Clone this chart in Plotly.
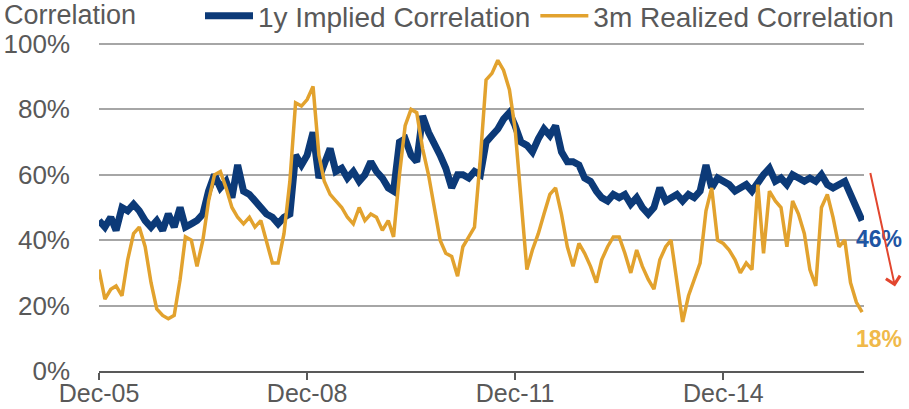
import pandas as pd
import plotly.graph_objects as go

# Monthly observations, Dec-2005 .. Dec-2016
dates = pd.date_range("2005-12-01", "2016-12-01", freq="MS")

implied_1y = [
    46, 44, 47, 43, 50, 49, 51, 49, 46, 44,
    46, 43, 48, 44, 50, 44, 45, 46, 48, 55,
    60, 56, 58, 53, 63, 55, 54, 52, 50, 48,
    47, 45, 47, 48, 66, 63, 66, 73, 59, 63,
    68, 61, 62, 59, 61, 58, 60, 64, 61, 59,
    56, 55, 70, 71, 66, 64, 78, 73, 70, 66,
    62, 56, 60, 60, 59, 61, 60, 70, 72, 74,
    77, 79, 75, 70, 69, 67, 71, 74, 72, 75,
    67, 64, 64, 63, 59, 58, 55, 53, 52, 54,
    53, 54, 51, 53, 50, 48, 50, 56, 52, 53,
    54, 52, 54, 53, 55, 63, 56, 59, 58, 57,
    55, 56, 57, 55, 58, 60, 62, 58, 59, 57,
    60, 59, 58, 59, 58, 60, 57, 56, 57, 58,
    54, 50, 46,
]

realized_3m = [
    31, 22, 25, 26, 23, 34, 42, 44, 38, 27,
    19, 17, 16, 17, 28, 41, 40, 32, 40, 52,
    60, 61, 56, 50, 47, 45, 47, 44, 46, 40,
    33, 33, 42, 58, 82, 81, 83, 87, 66, 58,
    54, 52, 50, 47, 45, 50, 46, 48, 47, 43,
    46, 41, 60, 75, 80, 79, 68, 60, 50, 40,
    36, 35, 29, 38, 41, 44, 65, 89, 91, 95,
    92, 86, 74, 52, 31, 37, 42, 48, 54, 56,
    48, 38, 32, 39, 36, 32, 27, 34, 38, 41,
    41, 36, 30, 37, 32, 28, 25, 34, 38, 40,
    27, 15, 23, 28, 33, 49, 56, 40, 39, 37,
    34, 30, 33, 31, 57, 36, 55, 52, 50, 38,
    52, 48, 42, 31, 26, 50, 54, 47, 38, 40,
    27, 21, 18,
]

series_names = ["1y Implied Correlation", "3m Realized Correlation"]
y_ticks = [0, 20, 40, 60, 80, 100]
x_ticks = ["2005-12-01", "2008-12-01", "2011-12-01", "2014-12-01"]
x_tick_text = ["Dec-05", "Dec-08", "Dec-11", "Dec-14"]

NAVY = "#0c3a78"
GOLD = "#e2a22e"
GREY = "#595959"
FONT = "Arial, Liberation Sans, sans-serif"
W, H = 909, 409

fig = go.Figure()
fig.add_trace(go.Scatter(
    x=dates, y=implied_1y, name=series_names[0], mode="lines",
    line=dict(color=NAVY, width=7),
))
fig.add_trace(go.Scatter(
    x=dates, y=realized_3m, name=series_names[1], mode="lines",
    line=dict(color=GOLD, width=3.5),
))

annotations = [
    # axis title in the top-left corner
    dict(text="Correlation", xref="paper", yref="paper",
         x=-0.127, y=1.082, xanchor="left", yanchor="middle",
         showarrow=False, font=dict(size=27, color=GREY, family=FONT)),
    # end-of-series value labels
    dict(text=f"{implied_1y[-1]}%", x=dates[-1], y=implied_1y[-1],
         xanchor="left", yanchor="middle", xshift=-8, yshift=-18,
         showarrow=False, font=dict(size=23, color="#1f55a3", family=FONT, weight="bold")),
    dict(text=f"{realized_3m[-1]}%", x=dates[-1], y=realized_3m[-1],
         xanchor="left", yanchor="middle", xshift=-8, yshift=-27,
         showarrow=False, font=dict(size=23, color="#f0b94a", family=FONT, weight="bold")),
    # falling-correlation arrow
    dict(text="", xref="paper", yref="paper",
         x=(895 - 99) / 765, y=(371 - 287) / 327,
         ax=-25, ay=-115, axref="pixel", ayref="pixel",
         showarrow=True, arrowhead=4, arrowsize=1.4, arrowwidth=2,
         arrowcolor="#e2462e"),
]

fig.update_layout(
    width=W, height=H,
    margin=dict(l=99, r=45, t=42, b=38, autoexpand=False),
    paper_bgcolor="white", plot_bgcolor="white",
    font=dict(family=FONT, color=GREY),
    showlegend=True,
    legend=dict(
        orientation="h", xref="container", yref="container",
        x=200 / W, y=1 - 16 / H, xanchor="left", yanchor="middle",
        font=dict(size=28, color=GREY, family=FONT),
        itemwidth=48, tracegroupgap=0,
        bgcolor="rgba(0,0,0,0)", borderwidth=0,
    ),
    annotations=annotations,
)

fig.update_xaxes(
    type="date", range=["2005-12-01", "2016-12-11"],
    tickvals=x_ticks, ticktext=x_tick_text,
    showgrid=False, showline=True, linecolor=GREY, linewidth=2,
    ticks="outside", ticklen=7, tickwidth=2, tickcolor=GREY,
    ticklabelstandoff=-8, automargin=False,
    tickfont=dict(size=25, color=GREY, family=FONT),
)
fig.update_yaxes(
    range=[0, 100.6], tickvals=y_ticks,
    ticktext=[f"{v}%" for v in y_ticks],
    showgrid=True, gridcolor="#a6a6a6", gridwidth=2,
    zeroline=False, showline=False, ticks="",
    ticklabelstandoff=28, automargin=False,
    tickfont=dict(size=26, color=GREY, family=FONT),
)

fig.write_html("out.html")
